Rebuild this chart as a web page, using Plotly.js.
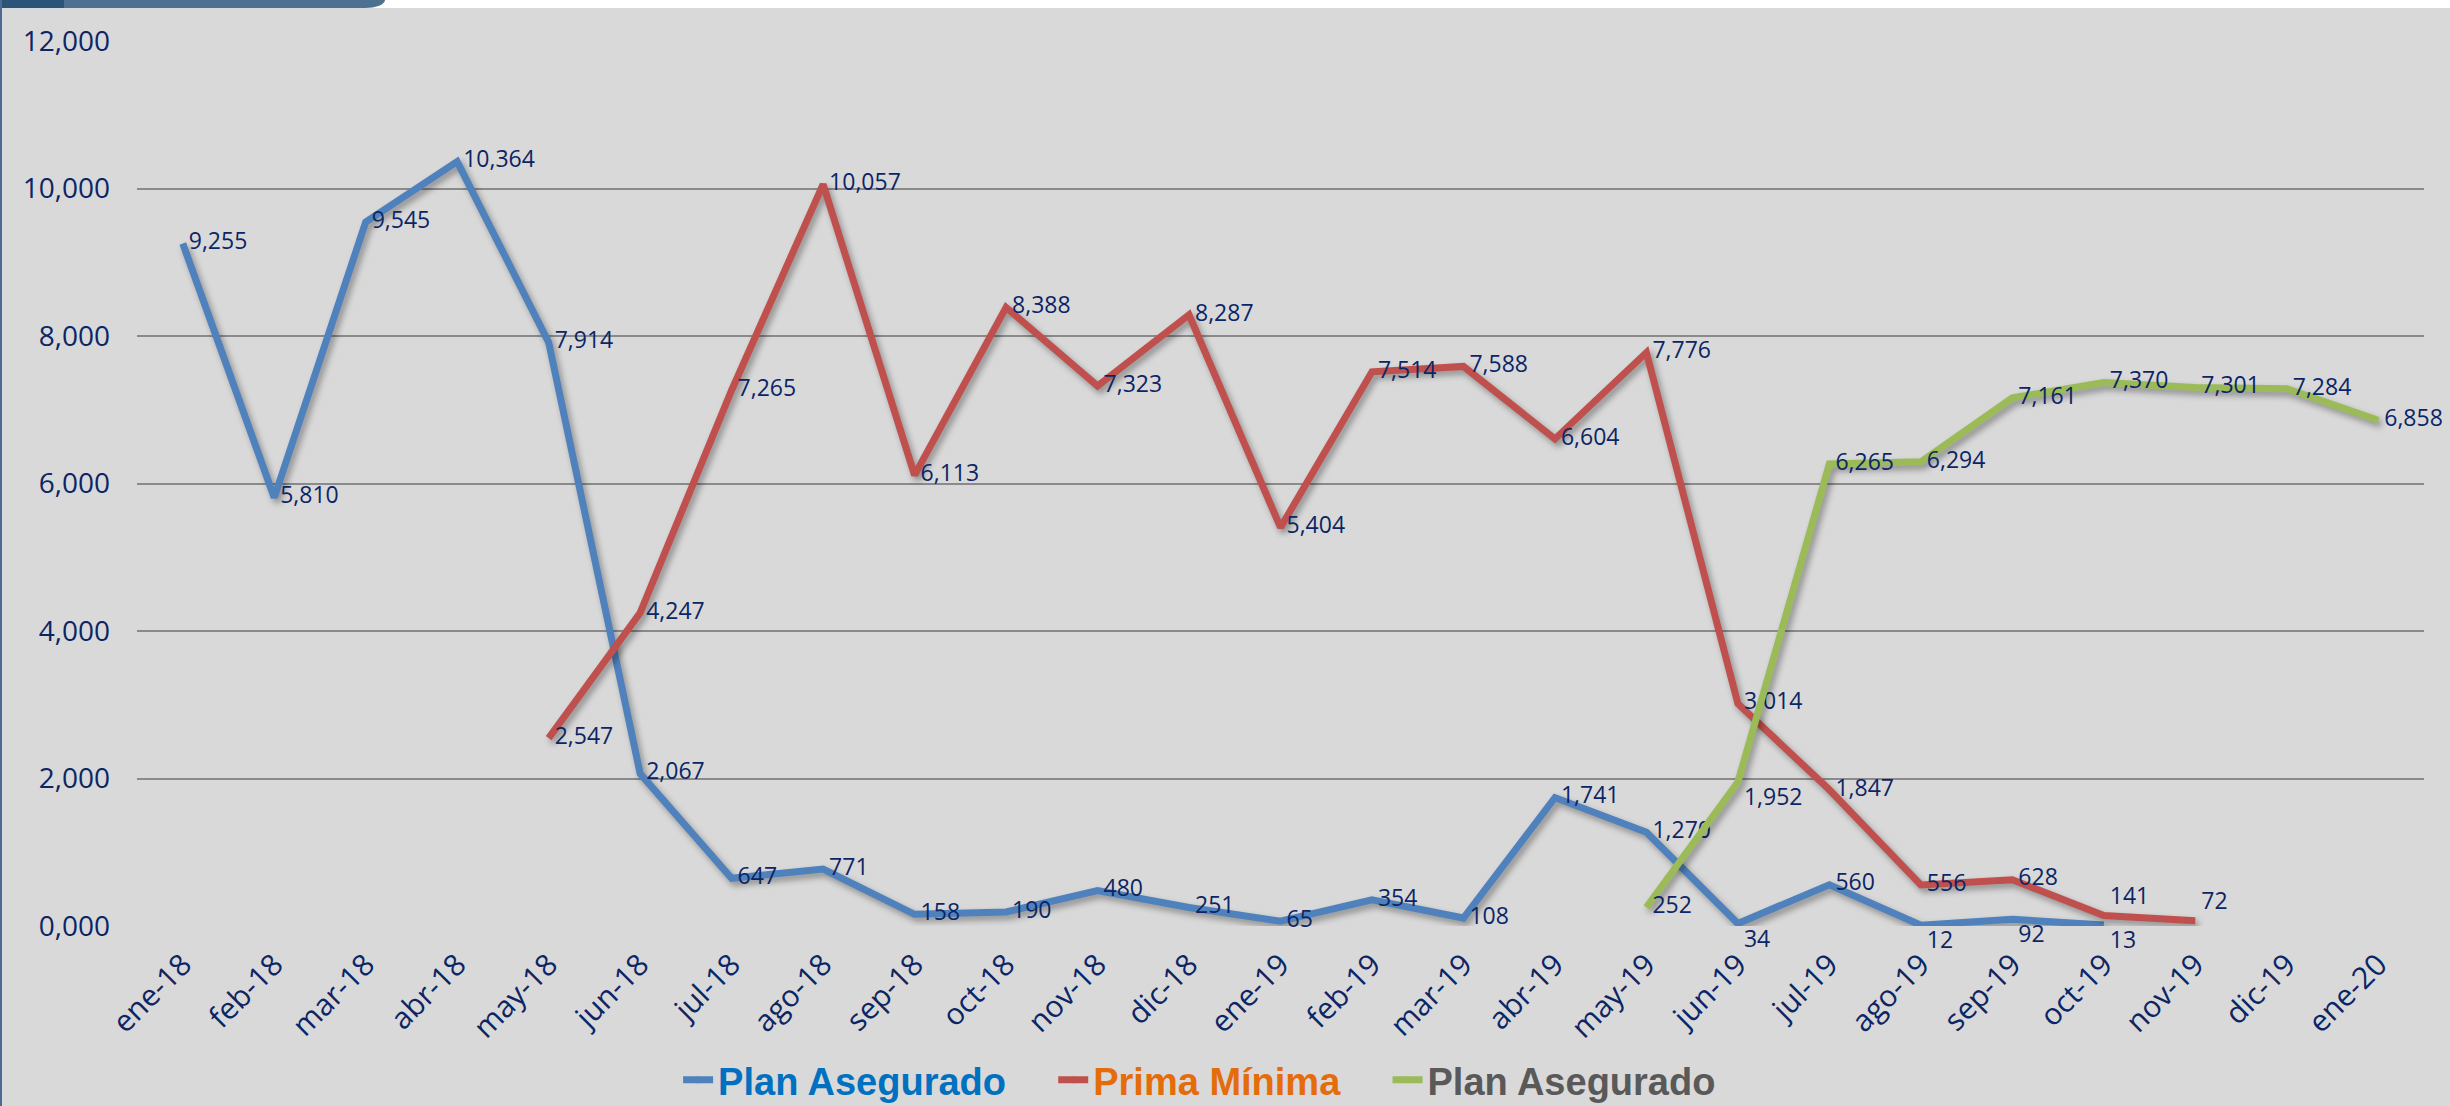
<!DOCTYPE html>
<html>
<head>
<meta charset="utf-8">
<script src="https://cdn.plot.ly/plotly-3.0.1.min.js"></script>
<style>
  html, body { margin: 0; padding: 0; background: #ffffff; }
  #wrap { position: relative; width: 2450px; height: 1106px; overflow: hidden; background: #d9d9d9; }
  #chart { position: absolute; left: 0; top: 0; width: 2450px; height: 1106px; }
  .topstrip { position: absolute; left: 0; top: 0; width: 2450px; height: 8px; background: #ffffff; pointer-events: none; }
  .band { position: absolute; left: 0; top: 0; width: 385px; height: 8px; background: #4e7192; border-bottom-right-radius: 20px 8px; pointer-events: none; }
  .band2 { position: absolute; left: 0; top: 0; width: 64px; height: 8px; background: #2c5479; pointer-events: none; }
  .leftline { position: absolute; left: 0; top: 0; width: 2px; height: 1106px; background: #4a6c94; pointer-events: none; }
  .scatterlayer .js-line { filter: drop-shadow(3px 4px 3px rgba(0,0,0,0.35)); }
</style>
</head>
<body>
<div id="wrap">
  <div id="chart"></div>
  <div class="topstrip"></div>
  <div class="band"></div>
  <div class="band2"></div>
  <div class="leftline"></div>
</div>
<script>
// ---- data ----
const months = ['ene-18','feb-18','mar-18','abr-18','may-18','jun-18','jul-18','ago-18','sep-18','oct-18','nov-18','dic-18',
                'ene-19','feb-19','mar-19','abr-19','may-19','jun-19','jul-19','ago-19','sep-19','oct-19','nov-19','dic-19','ene-20'];

const yTickVals = [0, 2000, 4000, 6000, 8000, 10000, 12000];
const yTickText = ['0,000', '2,000', '4,000', '6,000', '8,000', '10,000', '12,000'];

const planAseguradoStart = 'ene-18';
const planAsegurado = [9255, 5810, 9545, 10364, 7914, 2067, 647, 771, 158, 190, 480, 251,
                       65, 354, 108, 1741, 1270, 34, 560, 12, 92, 13];

const primaMinimaStart = 'may-18';
const primaMinima = [2547, 4247, 7265, 10057, 6113, 8388, 7323, 8287, 5404, 7514, 7588, 6604,
                     7776, 3014, 1847, 556, 628, 141, 72];

const planAsegurado2Start = 'may-19';
const planAsegurado2 = [252, 1952, 6265, 6294, 7161, 7370, 7301, 7284, 6858];

const seriesNames = ['Plan Asegurado', 'Prima Mínima', 'Plan Asegurado'];

// ---- styles ----
const navy = '#0b2565';
const lineColors = ['#4f81bd', '#c0504d', '#9bbb59'];
const legendColors = ['#0070c0', '#e46c0a', '#595959'];
const legendPad = '\u00a0\u00a0\u00a0\u00a0';

function xsFor(start, vals) {
  const i0 = months.indexOf(start);
  return months.slice(i0, i0 + vals.length);
}
function positions(n, special) {
  const arr = new Array(n).fill('middle right');
  Object.keys(special).forEach(k => { arr[+k] = special[k]; });
  return arr;
}

function makeTrace(idx, start, vals, special) {
  const pad = idx < seriesNames.length - 1 ? legendPad : '';
  return {
    type: 'scatter',
    mode: 'lines+markers+text',
    x: xsFor(start, vals),
    y: vals,
    name: '<span style="color:' + legendColors[idx] + '">' + seriesNames[idx] + pad + '</span>',
    line: { color: lineColors[idx], width: 7 },
    marker: { size: 8, opacity: 0, color: lineColors[idx] },
    texttemplate: '%{y:,}',
    textposition: positions(vals.length, special),
    textfont: { family: 'Open Sans, sans-serif', size: 23, color: navy },
    cliponaxis: false,
    hoverinfo: 'x+y'
  };
}

const traces = [
  makeTrace(0, planAseguradoStart, planAsegurado, {17: 'bottom right', 19: 'bottom right', 20: 'bottom right', 21: 'bottom right'}),
  makeTrace(1, primaMinimaStart, primaMinima, {17: 'top right', 18: 'top right'}),
  makeTrace(2, planAsegurado2Start, planAsegurado2, {1: 'bottom right'})
];

const layout = {
  width: 2450,
  height: 1106,
  paper_bgcolor: '#d9d9d9',
  plot_bgcolor: '#d9d9d9',
  margin: { l: 137, r: 26, t: 41, b: 180, autoexpand: false },
  showlegend: true,
  legend: {
    orientation: 'h',
    x: 0.2366, xanchor: 'left',
    y: -0.174, yanchor: 'middle',
    bgcolor: 'rgba(0,0,0,0)',
    font: { family: 'Liberation Sans, Arial, sans-serif', size: 38, color: '#595959', weight: 'bold' },
    traceorder: 'normal'
  },
  xaxis: {
    type: 'category',
    categoryorder: 'array',
    categoryarray: months,
    range: [-0.5, months.length - 0.5],
    automargin: false,
    showgrid: false,
    zeroline: false,
    showline: false,
    ticks: '',
    tickangle: -45,
    tickfont: { family: 'Open Sans, sans-serif', size: 30, color: navy },
    ticklabelstandoff: 14
  },
  yaxis: {
    range: [0, 12000],
    automargin: false,
    tickvals: yTickVals,
    ticktext: yTickText,
    showgrid: true,
    gridcolor: '#8a8a8a',
    gridwidth: 2,
    zeroline: false,
    showline: false,
    ticks: '',
    tickfont: { family: 'Open Sans, sans-serif', size: 28, color: navy },
    ticklabelstandoff: 26
  }
};

Plotly.newPlot('chart', traces, layout, { displayModeBar: false, staticPlot: true });
</script>
</body>
</html>
